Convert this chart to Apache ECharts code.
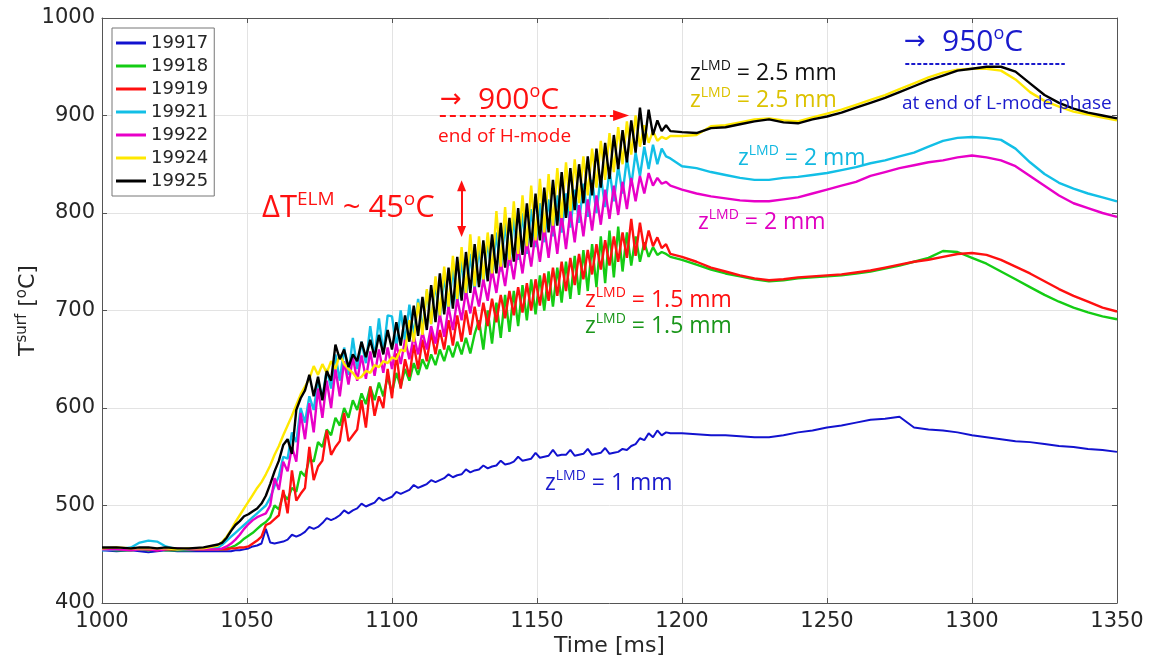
<!DOCTYPE html>
<html>
<head>
<meta charset="utf-8">
<title>Surface temperature vs time</title>
<script src="https://cdn.jsdelivr.net/npm/echarts@6.0.0/dist/echarts.min.js"></script>
<style>
  html, body { margin: 0; padding: 0; background: #fff; }
  #chart { width: 1150px; height: 663px; }
</style>
</head>
<body>
<div id="chart"></div>
<script>
// Time bases [ms]: flat start, ELMy H-mode phase, L-mode phase
const tPre = [1000, 1005, 1010, 1013, 1016, 1019, 1022, 1026, 1030, 1035];
const tH = [
  1040, 1041.5, 1043, 1044.5, 1046, 1047.5, 1049, 1050.5, 1052, 1053.5,
  1055, 1056.5, 1058, 1059.5, 1061, 1062.5, 1064, 1065.5, 1067, 1068.5,
  1070, 1071.5, 1073, 1074.5, 1076, 1077.5, 1079, 1080.5, 1082, 1083.5,
  1085, 1086.5, 1088, 1089.5, 1091, 1092.5, 1094, 1095.5, 1097, 1098.5,
  1100, 1101.5, 1103, 1104.5, 1106, 1107.5, 1109, 1110.5, 1112, 1113.5,
  1115, 1116.5, 1118, 1119.5, 1121, 1122.5, 1124, 1125.5, 1127, 1128.5,
  1130, 1131.5, 1133, 1134.5, 1136, 1137.5, 1139, 1140.5, 1142, 1143.5,
  1145, 1146.5, 1148, 1149.5, 1151, 1152.5, 1154, 1155.5, 1157, 1158.5,
  1160, 1161.5, 1163, 1164.5, 1166, 1167.5, 1169, 1170.5, 1172, 1173.5,
  1175, 1176.5, 1178, 1179.5, 1181, 1182.5, 1184, 1185.5, 1187, 1188.5,
  1190, 1191.5, 1193, 1194.5, 1196
];
const tL = [
  1200, 1205, 1210, 1215, 1220, 1225, 1230, 1235, 1240, 1245,
  1250, 1255, 1260, 1265, 1270, 1275, 1280, 1285, 1290, 1295,
  1300, 1305, 1310, 1315, 1320, 1325, 1330, 1335, 1340, 1345, 1350
];

const shots = ['19917', '19918', '19919', '19921', '19922', '19924', '19925'];

// T_surf [degC]
const pre19917 = [454, 453, 454, 453, 452, 453, 454, 453, 453, 453];
const h19917 = [
  453, 453, 453, 453, 454, 454, 455, 456, 458, 459,
  461, 476, 462, 461, 462, 463, 465, 470, 468, 470,
  473, 478, 476, 478, 482, 487, 485, 487, 490, 495,
  492, 495, 497, 502, 499, 501, 503, 508, 505, 507,
  509, 514, 512, 514, 516, 521, 518, 520, 522, 526,
  524, 526, 528, 532, 529, 531, 532, 537, 534, 536,
  537, 541, 538, 540, 541, 546, 542, 543, 545, 550,
  546, 547, 548, 554, 549, 550, 551, 557, 551, 552,
  552, 557, 551, 552, 553, 558, 552, 553, 554, 559,
  553, 554, 555, 558, 557, 561, 563, 569, 567, 574,
  570, 577, 572, 575, 574
];
const l19917 = [574, 573, 572, 572, 571, 570, 570, 572, 575, 577, 580, 582, 585, 588, 589, 591,
  580, 578, 577, 575, 572, 570, 568, 566, 565, 563, 561, 560, 558, 557, 555];

const pre19918 = [455, 454, 454, 455, 454, 455, 454, 454, 454, 455];
const h19918 = [
  455, 455, 456, 457, 459, 462, 466, 469, 472, 476,
  480, 483, 488, 500, 496, 512, 506, 518, 514, 535,
  530, 548, 545, 565, 560, 578, 572, 590, 582, 600,
  590, 608, 598, 615, 604, 622, 608, 626, 612, 632,
  616, 636, 622, 640, 628, 646, 634, 650, 640, 655,
  644, 660, 648, 664, 652, 668, 655, 672, 656, 676,
  690, 660, 700, 666, 708, 672, 716, 678, 720, 684,
  726, 690, 732, 696, 736, 700, 740, 704, 744, 708,
  750, 712, 756, 716, 762, 720, 768, 724, 776, 728,
  782, 734, 786, 740, 780, 746, 776, 750, 770, 755,
  765, 757, 760, 758, 755
];
const l19918 = [752, 747, 742, 738, 735, 732, 730, 731, 733, 734, 735, 736, 738, 740, 743, 746,
  750, 754, 761, 760, 754, 748, 740, 732, 724, 716, 709, 703, 698, 694, 691];

const pre19919 = [456, 456, 455, 456, 455, 454, 455, 455, 455, 455];
const h19919 = [
  455, 455, 455, 456, 456, 457, 457, 458, 461, 464,
  468, 480, 482, 486, 490, 516, 492, 536, 505, 512,
  518, 560, 526, 540, 546, 577, 552, 560, 566, 595,
  566, 572, 578, 608, 580, 622, 592, 612, 600, 640,
  610, 656, 620, 650, 632, 665, 640, 670, 648, 678,
  655, 680, 660, 690, 664, 695, 668, 700, 675, 704,
  680, 708, 684, 712, 688, 716, 692, 720, 695, 724,
  698, 728, 700, 732, 705, 738, 710, 744, 715, 750,
  720, 754, 726, 758, 732, 762, 737, 768, 742, 772,
  746, 776, 750, 780, 754, 794, 756, 790, 762, 782,
  766, 775, 764, 768, 758
];
const l19919 = [755, 750, 744, 740, 736, 733, 731, 732, 734, 735, 736, 737, 739, 741, 744, 747,
  750, 752, 755, 758, 759, 757, 752, 745, 738, 730, 722, 715, 709, 703, 699];

const pre19921 = [454, 455, 457, 462, 464, 463, 458, 455, 455, 456];
const h19921 = [
  457, 460, 464, 468, 472, 476, 480, 484, 488, 492,
  496, 500, 508, 520, 530, 550, 548, 575, 565, 600,
  585, 612, 598, 628, 610, 640, 620, 655, 628, 662,
  634, 672, 640, 668, 646, 684, 652, 692, 656, 695,
  694, 662, 700, 668, 706, 674, 712, 680, 720, 686,
  728, 692, 736, 698, 744, 705, 752, 712, 758, 720,
  765, 727, 772, 734, 780, 740, 790, 746, 796, 752,
  800, 758, 804, 765, 810, 770, 814, 776, 818, 780,
  820, 785, 824, 790, 830, 796, 834, 800, 838, 806,
  844, 812, 848, 820, 856, 828, 862, 838, 868, 845,
  870, 850, 866, 858, 856
];
const l19921 = [848, 846, 842, 839, 836, 834, 834, 836, 837, 839, 841, 844, 847, 851, 854, 858,
  862, 868, 874, 877, 878, 877, 875, 866, 852, 840, 831, 825, 820, 816, 812];

const pre19922 = [455, 455, 454, 455, 455, 454, 455, 456, 455, 455];
const h19922 = [
  455, 456, 458, 461, 465, 470, 476, 481, 485, 488,
  490, 492, 500, 528, 516, 545, 535, 560, 545, 595,
  568, 605, 575, 620, 590, 628, 600, 640, 612, 648,
  624, 652, 628, 654, 630, 658, 633, 660, 636, 662,
  640, 666, 645, 670, 650, 674, 655, 678, 660, 684,
  666, 696, 673, 704, 680, 712, 690, 720, 697, 724,
  704, 732, 710, 742, 718, 750, 725, 758, 732, 766,
  738, 772, 745, 780, 750, 786, 754, 792, 758, 798,
  763, 802, 770, 808, 776, 814, 782, 818, 788, 824,
  794, 828, 798, 832, 804, 836, 812, 838, 820, 841,
  828, 836, 830, 832, 828
];
const l19922 = [824, 820, 817, 815, 813, 812, 812, 814, 816, 820, 824, 828, 832, 838, 842, 846,
  849, 852, 854, 857, 859, 857, 854, 848, 838, 828, 818, 810, 805, 800, 796];

const pre19924 = [456, 457, 456, 456, 456, 456, 456, 455, 456, 456];
const h19924 = [
  459, 463, 468, 475, 483, 490, 497, 504, 511, 518,
  524, 532, 541, 552, 561, 572, 582, 592, 603, 614,
  622, 630, 643, 634, 645, 636, 648, 640, 655, 645,
  640, 636, 630, 632, 638, 636, 644, 642, 648, 646,
  652, 650, 660, 658, 690, 668, 708, 675, 722, 686,
  735, 695, 745, 704, 756, 712, 765, 718, 778, 725,
  776, 732, 780, 738, 802, 745, 806, 752, 812, 758,
  818, 766, 828, 772, 835, 780, 840, 787, 846, 795,
  852, 802, 855, 810, 858, 818, 866, 826, 874, 834,
  882, 842, 888, 850, 894, 860, 900, 868, 890, 872,
  884, 874, 878, 876, 879
];
const l19924 = [879, 880, 889, 890, 893, 896, 897, 895, 894, 898, 902, 906, 911, 916, 921, 927,
  933, 939, 944, 947, 948, 948, 946, 937, 924, 915, 909, 904, 901, 898, 895];

const pre19925 = [457, 457, 456, 457, 457, 456, 457, 456, 456, 457];
const h19925 = [
  460, 462, 467, 474, 480, 484, 489, 491, 494, 497,
  502, 510, 522, 535, 546, 562, 568, 553, 598, 610,
  618, 634, 612, 632, 608, 638, 628, 665, 650, 660,
  642, 655, 648, 668, 652, 670, 652, 675, 655, 680,
  660, 688, 664, 695, 668, 705, 674, 714, 680, 726,
  688, 738, 696, 744, 702, 755, 710, 760, 718, 768,
  724, 772, 730, 778, 738, 790, 744, 795, 750, 805,
  757, 810, 765, 820, 772, 826, 780, 834, 787, 842,
  795, 846, 803, 850, 810, 858, 818, 866, 826, 872,
  835, 880, 845, 885, 852, 895, 862, 908, 870, 906,
  880, 895, 884, 890, 884
];
const l19925 = [883, 882, 887, 888, 891, 894, 896, 893, 892, 896, 899, 903, 908, 913, 918, 924,
  930, 936, 941, 946, 948, 950, 950, 945, 933, 921, 913, 907, 903, 900, 897];

const tAll = tPre.concat(tH, tL);
function pairs(pre, h, l) {
  const v = pre.concat(h, l);
  const n = Math.min(tAll.length, v.length);
  const out = [];
  for (let i = 0; i < n; i++) out.push([tAll[i], v[i]]);
  return out;
}

const values = {
  '19917': pairs(pre19917, h19917, l19917),
  '19918': pairs(pre19918, h19918, l19918),
  '19919': pairs(pre19919, h19919, l19919),
  '19921': pairs(pre19921, h19921, l19921),
  '19922': pairs(pre19922, h19922, l19922),
  '19924': pairs(pre19924, h19924, l19924),
  '19925': pairs(pre19925, h19925, l19925)
};
const lineColor = {
  '19917': '#1212cf', '19918': '#14cc14', '19919': '#ff1010', '19921': '#12bfe6',
  '19922': '#e800c8', '19924': '#ffe800', '19925': '#000000'
};

const AX = '#262626';
const TICKFONT = 'DejaVu Sans';
const ANNFONT = "'Open Sans', 'DejaVu Sans', sans-serif";

// rich text with superscripts
function note(x, y, str, color, size, supSize, smallSize) {
  return {
    type: 'text', x: x, y: y, z: 100, silent: true,
    style: {
      text: str, align: 'left', verticalAlign: 'middle',
      rich: {
        m: { fill: color, fontSize: size, fontFamily: ANNFONT, lineHeight: size + 5 },
        s: { fill: color, fontSize: supSize, fontFamily: ANNFONT, lineHeight: supSize + 1, verticalAlign: 'top' },
        a: { fill: color, fontSize: smallSize || size, fontFamily: 'DejaVu Sans', lineHeight: size + 5, width: 38 }
      }
    }
  };
}
function zNote(x, y, val, color) {
  return note(x, y, '{m|z}{s|LMD}{m| = ' + val + '}', color, 23, 14);
}

const series = shots.map(function (s) {
  return {
    name: s, type: 'line', data: values[s], showSymbol: false, symbol: 'none',
    color: lineColor[s], lineStyle: { width: s === '19917' ? 2 : 2.4, color: lineColor[s] },
    emphasis: { disabled: true }, animation: false
  };
});

// dashed arrows / markers
series.push({
  name: '_marks', type: 'line', data: [], silent: true, animation: false,
  markLine: {
    silent: true, animation: false, label: { show: false }, emphasis: { disabled: true },
    data: [
      [{ coord: [1116.5, 900], symbol: 'none', lineStyle: { color: '#ff1010', width: 2, type: [6, 4] } },
       { coord: [1179, 900], symbol: 'triangle', symbolSize: [11, 16] }],
      [{ coord: [1277, 953], symbol: 'none', lineStyle: { color: '#1a1acc', width: 2, type: [4, 2] } },
       { coord: [1332, 953], symbol: 'none' }],
      [{ coord: [1124, 781], symbol: 'triangle', symbolSize: [9, 11], lineStyle: { color: '#ff1010', width: 2, type: 'solid' } },
       { coord: [1124, 828], symbol: 'triangle', symbolSize: [9, 11] }]
    ]
  }
});

const plain = function (v) { return String(v); };

const chart = echarts.init(document.getElementById('chart'), null, { renderer: 'canvas' });
chart.setOption({
  animation: false,
  backgroundColor: '#ffffff',
  grid: { left: 102, right: 33, top: 18, bottom: 60, containLabel: false, outerBoundsMode: 'none' },
  legend: {
    data: shots, orient: 'vertical', left: 112, top: 28,
    padding: [5, 6, 5, 4], itemGap: 3, itemWidth: 30, itemHeight: 3, icon: 'rect',
    borderColor: '#777', borderWidth: 1, borderRadius: 0, backgroundColor: '#ffffff',
    textStyle: { fontSize: 18, color: AX, fontFamily: TICKFONT, lineHeight: 20 },
    selectedMode: false
  },
  xAxis: [{
    type: 'value', min: 1000, max: 1350, interval: 50, position: 'bottom',
    name: 'Time [ms]', nameLocation: 'middle', nameGap: 32, nameMoveOverlap: false,
    nameTextStyle: { fontSize: 22, color: AX, fontFamily: TICKFONT },
    axisLine: { show: true, lineStyle: { color: '#555', width: 1 } },
    axisTick: { show: true, inside: true, length: 5, lineStyle: { color: '#555' } },
    axisLabel: { fontSize: 21, color: AX, fontFamily: TICKFONT, margin: 8, formatter: plain },
    splitLine: { show: true, lineStyle: { color: '#e3e3e3', width: 1 } }
  }, {
    type: 'value', min: 1000, max: 1350, interval: 50, position: 'top',
    axisLine: { show: true, lineStyle: { color: '#555', width: 1 } },
    axisTick: { show: true, inside: true, length: 5, lineStyle: { color: '#555' } },
    axisLabel: { show: false }, splitLine: { show: false }
  }],
  yAxis: [{
    type: 'value', min: 400, max: 1000, interval: 100, position: 'left',
    name: 'T{s|surf} [{s|o}C]', nameLocation: 'middle', nameGap: 61, nameRotate: 90,
    nameMoveOverlap: false,
    nameTextStyle: {
      fontSize: 22, color: AX, fontFamily: TICKFONT, lineHeight: 26,
      rich: { s: { fontSize: 15, color: AX, fontFamily: TICKFONT, verticalAlign: 'top', lineHeight: 16 } }
    },
    axisLine: { show: true, lineStyle: { color: '#555', width: 1 } },
    axisTick: { show: true, inside: true, length: 5, lineStyle: { color: '#555' } },
    axisLabel: { fontSize: 21, color: AX, fontFamily: TICKFONT, margin: 7, formatter: plain },
    splitLine: { show: true, lineStyle: { color: '#e3e3e3', width: 1 } }
  }, {
    type: 'value', min: 400, max: 1000, interval: 100, position: 'right',
    axisLine: { show: true, lineStyle: { color: '#555', width: 1 } },
    axisTick: { show: true, inside: true, length: 5, lineStyle: { color: '#555' } },
    axisLabel: { show: false }, splitLine: { show: false }
  }],
  series: series,
  graphic: [
    note(440, 100, '{a|→}{m|900}{s|o}{m|C}', '#ff1010', 30, 18, 26),
    note(438, 137, '{m|end of H-mode}', '#ff1010', 19, 12),
    note(262, 208, '{m|ΔT}{s|ELM}{m| ~ 45}{s|o}{m|C}', '#ff1010', 31, 19),
    note(904, 42, '{a|→}{m|950}{s|o}{m|C}', '#1a1acc', 30, 18, 26),
    note(902, 104, '{m|at end of L-mode phase}', '#1a1acc', 19, 12),
    zNote(690, 73, '2.5 mm', '#111111'),
    zNote(690, 100, '2.5 mm', '#dcc200'),
    zNote(738, 158, '2 mm', '#12b8e0'),
    zNote(698, 222, '2 mm', '#e000c0'),
    zNote(585, 300, '1.5 mm', '#ff1010'),
    zNote(585, 326, '1.5 mm', '#1a961a'),
    zNote(545, 483, '1 mm', '#1a1acc')
  ]
});
</script>
</body>
</html>
